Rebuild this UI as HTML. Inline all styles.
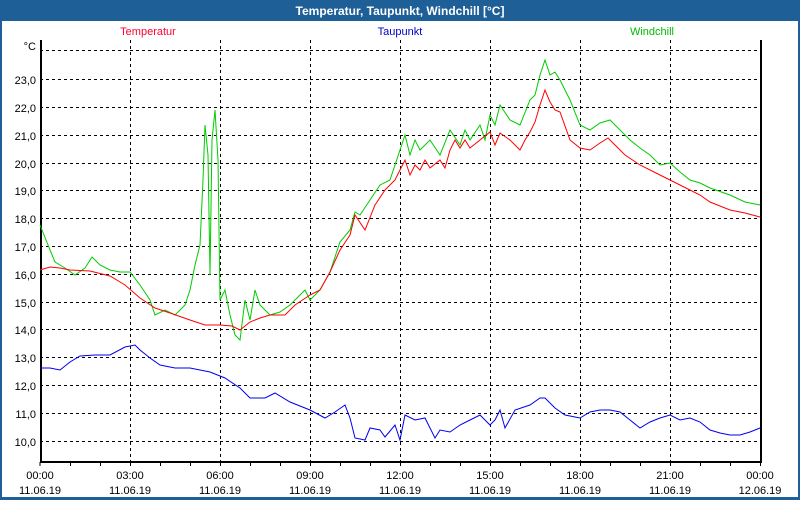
<!DOCTYPE html>
<html><head><meta charset="utf-8"><style>
body{margin:0;width:800px;height:500px;overflow:hidden;background:#fff;font-family:"Liberation Sans",sans-serif}
</style></head><body>
<svg width="800" height="500" xmlns="http://www.w3.org/2000/svg" font-family="Liberation Sans, sans-serif" font-size="11">
<rect x="0" y="0" width="800" height="500" fill="#1e5f97"/>
<rect x="2" y="21" width="796" height="476" fill="#fff"/>
<text x="400" y="15" fill="#fff" font-weight="bold" font-size="12" text-anchor="middle">Temperatur, Taupunkt, Windchill [°C]</text>
<text x="148" y="35" fill="#ff0033" text-anchor="middle">Temperatur</text>
<text x="400" y="35" fill="#0000cc" text-anchor="middle">Taupunkt</text>
<text x="652" y="35" fill="#00bb00" text-anchor="middle">Windchill</text>
<g stroke="#000" stroke-dasharray="3,3" stroke-width="1">
<line x1="40" x2="760" y1="50.5" y2="50.5"/><line x1="40" x2="760" y1="79.5" y2="79.5"/><line x1="40" x2="760" y1="107.5" y2="107.5"/><line x1="40" x2="760" y1="135.5" y2="135.5"/><line x1="40" x2="760" y1="163.5" y2="163.5"/><line x1="40" x2="760" y1="190.5" y2="190.5"/><line x1="40" x2="760" y1="218.5" y2="218.5"/><line x1="40" x2="760" y1="246.5" y2="246.5"/><line x1="40" x2="760" y1="274.5" y2="274.5"/><line x1="40" x2="760" y1="302.5" y2="302.5"/><line x1="40" x2="760" y1="329.5" y2="329.5"/><line x1="40" x2="760" y1="357.5" y2="357.5"/><line x1="40" x2="760" y1="385.5" y2="385.5"/><line x1="40" x2="760" y1="413.5" y2="413.5"/><line x1="40" x2="760" y1="441.5" y2="441.5"/>
<line y1="40" y2="462" x1="130.5" x2="130.5"/><line y1="40" y2="462" x1="220.5" x2="220.5"/><line y1="40" y2="462" x1="310.5" x2="310.5"/><line y1="40" y2="462" x1="400.5" x2="400.5"/><line y1="40" y2="462" x1="490.5" x2="490.5"/><line y1="40" y2="462" x1="580.5" x2="580.5"/><line y1="40" y2="462" x1="670.5" x2="670.5"/>
</g>
<g stroke="#000">
<line x1="40" x2="40" y1="466" y2="462"/><line x1="70.5" x2="70.5" y1="462" y2="466"/><line x1="100.5" x2="100.5" y1="462" y2="466"/><line x1="130.5" x2="130.5" y1="462" y2="466"/><line x1="160.5" x2="160.5" y1="462" y2="466"/><line x1="190.5" x2="190.5" y1="462" y2="466"/><line x1="220.5" x2="220.5" y1="462" y2="466"/><line x1="250.5" x2="250.5" y1="462" y2="466"/><line x1="280.5" x2="280.5" y1="462" y2="466"/><line x1="310.5" x2="310.5" y1="462" y2="466"/><line x1="340.5" x2="340.5" y1="462" y2="466"/><line x1="370.5" x2="370.5" y1="462" y2="466"/><line x1="400.5" x2="400.5" y1="462" y2="466"/><line x1="430.5" x2="430.5" y1="462" y2="466"/><line x1="460.5" x2="460.5" y1="462" y2="466"/><line x1="490.5" x2="490.5" y1="462" y2="466"/><line x1="520.5" x2="520.5" y1="462" y2="466"/><line x1="550.5" x2="550.5" y1="462" y2="466"/><line x1="580.5" x2="580.5" y1="462" y2="466"/><line x1="610.5" x2="610.5" y1="462" y2="466"/><line x1="640.5" x2="640.5" y1="462" y2="466"/><line x1="670.5" x2="670.5" y1="462" y2="466"/><line x1="700.5" x2="700.5" y1="462" y2="466"/><line x1="730.5" x2="730.5" y1="462" y2="466"/><line x1="760.5" x2="760.5" y1="462" y2="466"/>
</g>
<polyline fill="none" stroke="#000" stroke-width="2" points="41,40 41,462 761,462 761,40"/>
<g text-anchor="end" fill="#000">
<text x="36" y="50">°C</text>
<text x="36" y="84">23,0</text><text x="36" y="112">22,0</text><text x="36" y="140">21,0</text><text x="36" y="168">20,0</text><text x="36" y="195">19,0</text><text x="36" y="223">18,0</text><text x="36" y="251">17,0</text><text x="36" y="279">16,0</text><text x="36" y="307">15,0</text><text x="36" y="334">14,0</text><text x="36" y="362">13,0</text><text x="36" y="390">12,0</text><text x="36" y="418">11,0</text><text x="36" y="446">10,0</text>
</g>
<g text-anchor="middle" fill="#000">
<text x="40" y="479">00:00</text><text x="40" y="494">11.06.19</text>
<text x="130" y="479">03:00</text><text x="130" y="494">11.06.19</text>
<text x="220" y="479">06:00</text><text x="220" y="494">11.06.19</text>
<text x="310" y="479">09:00</text><text x="310" y="494">11.06.19</text>
<text x="400" y="479">12:00</text><text x="400" y="494">11.06.19</text>
<text x="490" y="479">15:00</text><text x="490" y="494">11.06.19</text>
<text x="580" y="479">18:00</text><text x="580" y="494">11.06.19</text>
<text x="670" y="479">21:00</text><text x="670" y="494">11.06.19</text>
<text x="760" y="479">00:00</text><text x="760" y="494">12.06.19</text>
</g>
<polyline fill="none" stroke="#00cc00" points="40,225 48,245 55,262 65,268 75,275 85,268 92,257 100,265 110,270 120,272 130,272 140,285 150,300 155,315 165,310 175,315 185,305 190,290 195,265 200,245 203,180 205,125 208,155 210,275 212,140 215,110 218,160 220,300 225,290 230,315 235,335 240,340 245,300 250,320 255,290 260,305 265,310 270,315 280,312 290,305 300,295 305,290 310,300 320,290 330,272 340,242 350,230 355,212 360,215 370,200 380,185 390,180 400,150 405,135 410,155 415,140 420,150 430,140 440,155 450,130 460,145 465,130 470,140 480,125 485,140 490,115 495,125 500,105 510,120 520,125 530,100 535,95 540,75 545,60 550,75 555,72 560,80 570,100 580,125 590,130 600,123 610,120 620,130 630,140 640,148 650,155 660,165 670,163 680,172 690,180 700,183 710,188 730,195 745,202 760,205"/>
<polyline fill="none" stroke="#ff0000" points="40,270 50,267 60,268 70,270 90,271 110,276 125,285 140,298 155,308 170,313 190,320 205,325 220,325 232,326 240,330 250,322 260,318 270,315 285,315 295,305 310,295 320,290 330,272 340,250 350,235 355,215 365,230 375,205 385,190 395,180 400,170 405,160 410,175 415,165 420,170 425,160 430,168 440,160 445,168 450,150 455,140 460,148 465,140 470,148 480,140 490,132 495,145 500,133 510,140 520,150 525,140 530,132 535,122 540,105 545,90 550,102 555,110 560,112 570,140 580,148 590,150 600,143 608,138 615,145 625,155 640,165 660,175 680,185 700,195 710,202 730,210 745,213 760,217"/>
<polyline fill="none" stroke="#0000ee" points="40,368 50,368 60,370 70,362 80,356 95,355 110,355 125,347 135,345 140,350 150,358 160,365 175,368 190,368 210,372 225,378 240,388 250,398 265,398 275,393 290,402 310,410 325,418 335,412 345,405 350,418 355,438 365,440 370,428 380,430 385,437 395,425 400,440 405,415 415,420 425,418 435,438 440,430 450,432 460,425 470,420 480,415 490,425 495,420 500,410 505,428 515,410 530,405 540,398 545,398 555,408 565,415 580,418 590,412 600,410 610,410 620,412 630,420 640,428 650,422 660,418 670,415 680,420 690,418 700,422 710,430 720,433 730,435 740,435 750,432 760,428"/>
</svg>
</body></html>
